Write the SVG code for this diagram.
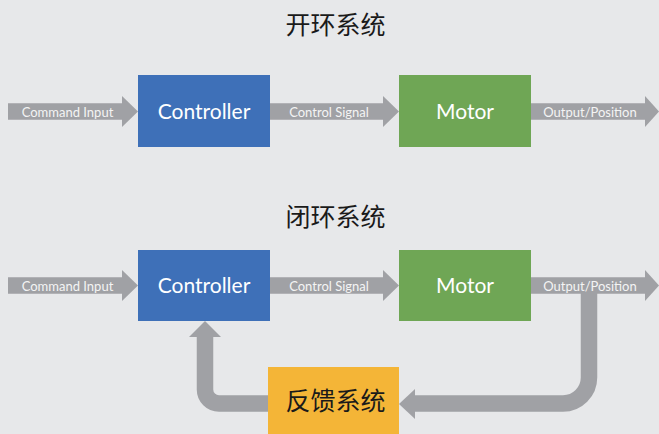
<svg xmlns="http://www.w3.org/2000/svg" width="659" height="434" viewBox="0 0 659 434">
<style>
.bg{fill:#E7E8EA}
.title{font-family:"Noto Sans CJK SC",sans-serif;font-size:25px;fill:#1a1a1a;text-anchor:middle}
.node-text{font-family:Lato,"Liberation Sans",sans-serif;font-size:21px;fill:#ffffff;text-anchor:middle}
.lbl{font-family:Lato,"Liberation Sans",sans-serif;font-size:13px;fill:#F4F4F4;text-anchor:middle}
.shaft{fill:none;stroke:#A0A1A5;stroke-width:16.5;stroke-linecap:butt;stroke-linejoin:miter}
.head{fill:#A0A1A5}
.blue{fill:#3E70B8}
.green{fill:#6FA655}
.orange{fill:#F4B537}
</style>
<rect class="bg" x="0" y="0" width="659" height="434"/>
<text class="title" x="335.5" y="34">开环系统</text>
<text class="title" x="335.5" y="226">闭环系统</text>
<g id="connectors">
  <!-- open loop -->
  <path class="shaft" d="M8 111.5H123"/>
  <polygon class="head" points="122,96 138,111.5 122,127"/>
  <path class="shaft" d="M270 111.5H384"/>
  <polygon class="head" points="383,96 399,111.5 383,127"/>
  <path class="shaft" d="M531 111.5H646"/>
  <polygon class="head" points="645,96 659,111.5 645,127"/>
  <!-- closed loop -->
  <path class="shaft" d="M8 285.5H123"/>
  <polygon class="head" points="122,270 138,285.5 122,301"/>
  <path class="shaft" d="M270 285.5H384"/>
  <polygon class="head" points="383,270 399,285.5 383,301"/>
  <path class="shaft" d="M531 285.5H646"/>
  <polygon class="head" points="645,270 659,285.5 645,301"/>
  <path class="shaft" d="M589 285.5V377.5A26 26 0 0 1 563 403.5H414"/>
  <polygon class="head" points="415,389 399,404 415,419"/>
  <path class="shaft" d="M268 403.5H219A14 14 0 0 1 205 389.5V336"/>
  <polygon class="head" points="189,337 205,321 221,337"/>
  <text class="lbl" x="67.5" y="116.5">Command Input</text>
  <text class="lbl" x="329" y="116.5">Control Signal</text>
  <text class="lbl" x="590" y="116.5">Output/Position</text>
  <text class="lbl" x="67.5" y="290.5">Command Input</text>
  <text class="lbl" x="329" y="290.5">Control Signal</text>
  <text class="lbl" x="590" y="290.5">Output/Position</text>
</g>
<g id="controller-open">
  <rect class="blue" x="138" y="75" width="132" height="72"/>
  <text class="node-text" x="204" y="119">Controller</text>
</g>
<g id="motor-open">
  <rect class="green" x="399" y="75" width="132" height="72"/>
  <text class="node-text" x="465" y="119">Motor</text>
</g>
<g id="controller-closed">
  <rect class="blue" x="138" y="250" width="132" height="71"/>
  <text class="node-text" x="204" y="293">Controller</text>
</g>
<g id="motor-closed">
  <rect class="green" x="399" y="250" width="132" height="71"/>
  <text class="node-text" x="465" y="293">Motor</text>
</g>
<g id="feedback">
  <rect class="orange" x="268" y="367" width="131" height="71"/>
  <text class="title" x="335.5" y="409.5">反馈系统</text>
</g>
</svg>
